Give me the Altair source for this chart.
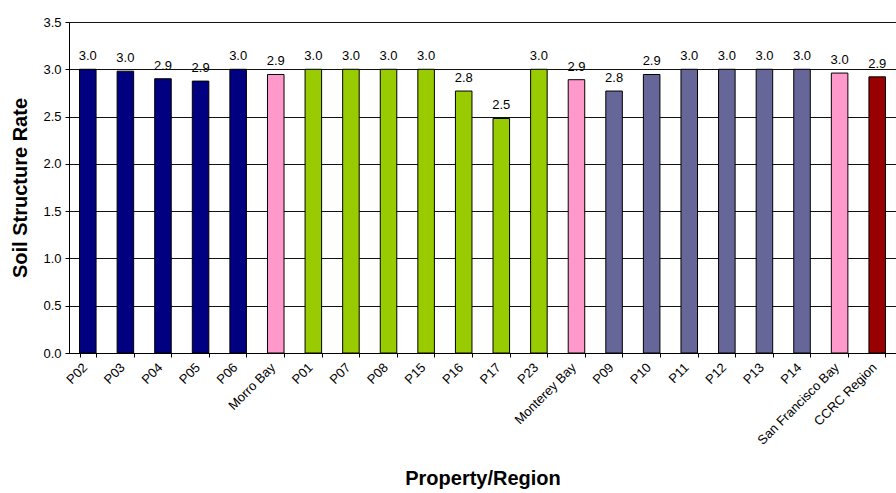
import altair as alt
import pandas as pd

categories = ["P02", "P03", "P04", "P05", "P06", "Morro Bay",
              "P01", "P07", "P08", "P15", "P16", "P17", "P23", "Monterey Bay",
              "P09", "P10", "P11", "P12", "P13", "P14", "San Francisco Bay",
              "CCRC Region"]
values = [3.00, 2.98, 2.90, 2.875, 3.00, 2.945,
          3.00, 3.00, 3.00, 3.00, 2.77, 2.48, 3.00, 2.89,
          2.77, 2.945, 3.00, 3.00, 3.00, 3.00, 2.96,
          2.92]
groups = ["A"] * 5 + ["R"] + ["B"] * 7 + ["R"] + ["C"] * 6 + ["R"] + ["T"]
group_names = ["A", "B", "C", "R", "T"]
group_colors = ["#000080", "#99CC00", "#666699", "#FF99CC", "#990000"]
y_ticks = [0, 0.5, 1.0, 1.5, 2.0, 2.5, 3.0, 3.5]

df = pd.DataFrame({"cat": categories, "val": values, "grp": groups})

FONT = "Liberation Sans"

x_enc = alt.X("cat:N", sort=categories,
              scale=alt.Scale(paddingInner=0.56, paddingOuter=0.28),
              axis=alt.Axis(title="Property/Region", labelAngle=-45,
                            labelFontSize=13, labelFont=FONT, labelColor="#000",
                            labelPadding=8, labelOverlap=False, labelOffset=-3,
                            labelAlign="right", labelBaseline="middle",
                            tickBand="extent", tickSize=4, tickColor="#000",
                            domainColor="#000", grid=False,
                            titleFont=FONT, titleFontSize=20, titleFontWeight="bold",
                            titleColor="#000", titleX=413.5, titleY=125,
                            titleBaseline="middle", titleAlign="center"))
y_enc = alt.Y("val:Q", scale=alt.Scale(domain=[0, 3.5], nice=False),
              axis=alt.Axis(title="Soil Structure Rate", values=y_ticks, format=".1f",
                            labelFontSize=13, labelFont=FONT, labelColor="#000",
                            labelPadding=4, tickSize=4, tickColor="#000",
                            domainColor="#000", grid=True, gridColor="#111",
                            gridWidth=1,
                            titleFont=FONT, titleFontSize=20, titleFontWeight="bold",
                            titleColor="#000", titleAngle=-90, titleX=-49,
                            titleY=165.5, titleAlign="center",
                            titleBaseline="middle"))

bars = alt.Chart(df).mark_bar(stroke="#000", strokeWidth=1).encode(
    x=x_enc, y=y_enc,
    color=alt.Color("grp:N", scale=alt.Scale(domain=group_names, range=group_colors),
                    legend=None),
)
labels = alt.Chart(df).mark_text(font=FONT, fontSize=13, color="#000",
                                 baseline="alphabetic", dy=-9).encode(
    x=alt.X("cat:N", sort=categories),
    y=alt.Y("val:Q"),
    text=alt.Text("val:Q", format=".1f"),
)

chart = (bars + labels).properties(
    width=827, height=331,
    autosize=alt.AutoSizeParams(type="none"),
    padding={"left": 69, "top": 22, "right": 0, "bottom": 140},
).configure_view(stroke=None).configure(background="white")

chart.save("out.html", embed_options={"renderer": "svg", "actions": False})
